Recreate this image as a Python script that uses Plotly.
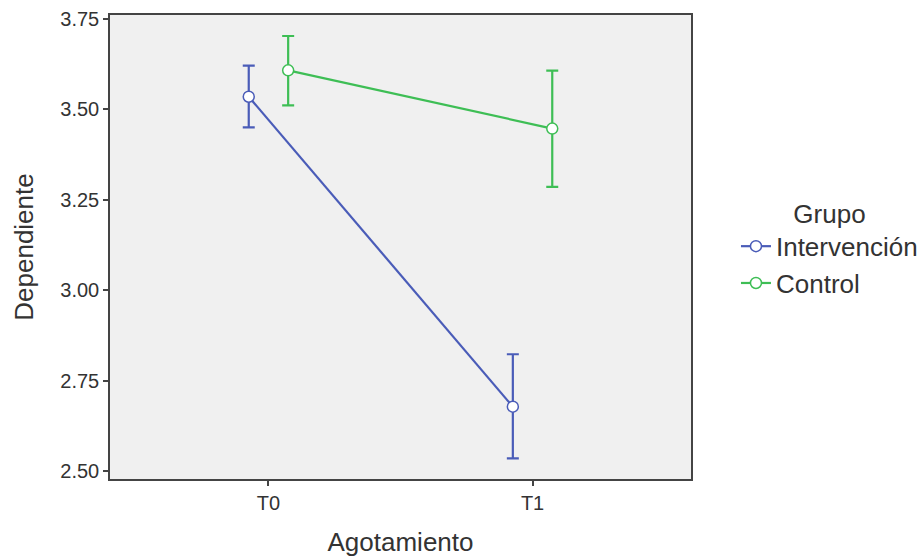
import plotly.graph_objects as go

categories = ["T0", "T1"]
groups = ["Intervención", "Control"]
means = {
    "Intervención": [3.535, 2.678],
    "Control": [3.608, 3.447],
}
upper = {
    "Intervención": [3.621, 2.823],
    "Control": [3.703, 3.607],
}
lower = {
    "Intervención": [3.450, 2.535],
    "Control": [3.511, 3.286],
}
colors = {"Intervención": "#4A5CB8", "Control": "#3EBE55"}
dodge = {"Intervención": -0.0746, "Control": 0.0746}

fig = go.Figure()
for g in groups:
    xs = [i + dodge[g] for i in range(len(categories))]
    m = means[g]
    fig.add_trace(go.Scatter(
        x=xs, y=m, mode="lines+markers", name=g,
        line=dict(color=colors[g], width=2.2),
        marker=dict(size=11, color="white", line=dict(color=colors[g], width=1.5)),
        error_y=dict(type="data", symmetric=False,
                     array=[u - v for u, v in zip(upper[g], m)],
                     arrayminus=[v - l for v, l in zip(m, lower[g])],
                     color=colors[g], thickness=2.2, width=6),
    ))

font = "Liberation Sans, Arial, sans-serif"
fig.update_layout(
    width=924, height=558,
    margin=dict(l=110, r=233, t=15, b=79, autoexpand=False),
    plot_bgcolor="#F0F0F0", paper_bgcolor="white",
    font=dict(family=font, color="#333333"),
    legend=dict(xref="container", yref="container", x=0.7965, y=0.5556,
                xanchor="left", yanchor="middle",
                title=dict(text="Grupo", font=dict(size=26, color="#333333"), side="top center"),
                font=dict(size=26, color="#333333"), tracegroupgap=0),
    xaxis=dict(range=[-0.6, 1.6], tickvals=[0, 1], ticktext=categories, automargin=False,
               showgrid=False, zeroline=False, showline=True, linecolor="#444444", linewidth=1.5,
               mirror=True, ticks="outside", ticklen=5, tickwidth=1.5, tickcolor="#444444",
               tickfont=dict(size=20, color="#333333"),
               title=dict(text="Agotamiento", font=dict(size=26, color="#333333"), standoff=20)),
    yaxis=dict(range=[2.478, 3.761], tickvals=[2.5, 2.75, 3.0, 3.25, 3.5, 3.75], automargin=False,
               ticktext=["2.50", "2.75", "3.00", "3.25", "3.50", "3.75"],
               showgrid=False, zeroline=False, showline=True, linecolor="#444444", linewidth=1.5,
               mirror=True, ticks="outside", ticklen=5, tickwidth=1.5, tickcolor="#444444",
               tickfont=dict(size=20, color="#333333"),
               title=dict(text="Dependiente", font=dict(size=26, color="#333333"), standoff=19)),
)
fig.write_html("out.html")
